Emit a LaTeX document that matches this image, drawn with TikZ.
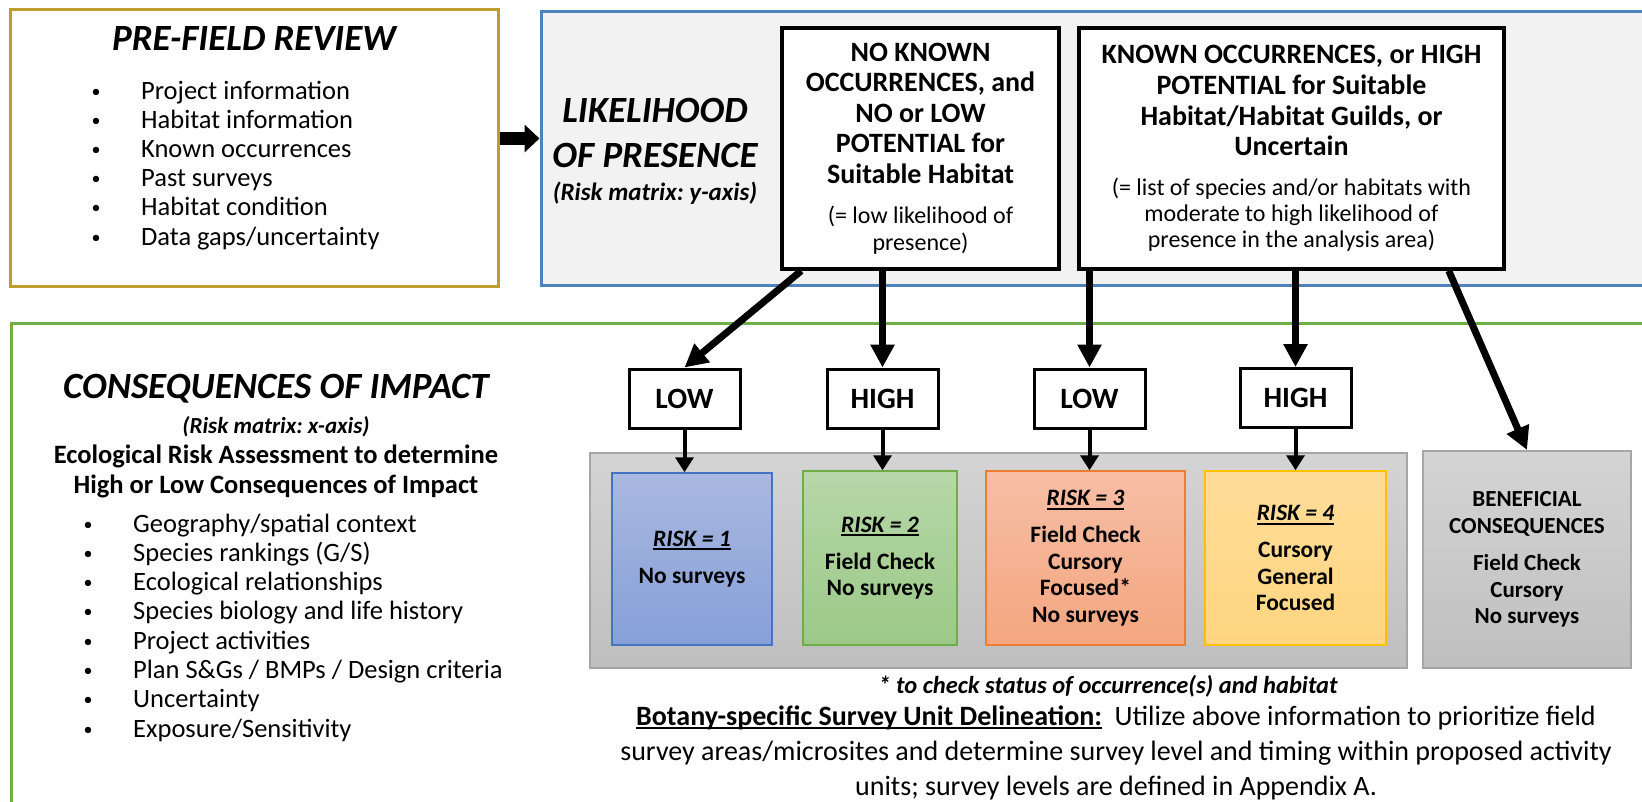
\documentclass[tikz,border=0pt]{standalone}
\usepackage{fontspec}
\setmainfont{Carlito}
\usetikzlibrary{positioning}
\usetikzlibrary{arrows.meta}
\frenchspacing
\definecolor{prefieldgold}{RGB}{191,155,48}
\definecolor{likelyblue}{RGB}{79,129,189}
\definecolor{likelyfill}{RGB}{242,242,242}
\definecolor{consgreen}{RGB}{112,173,71}
\definecolor{r1top}{RGB}{169,184,224}
\definecolor{r1bot}{RGB}{134,160,216}
\definecolor{r1line}{RGB}{68,114,196}
\definecolor{r2top}{RGB}{182,215,168}
\definecolor{r2bot}{RGB}{156,201,135}
\definecolor{r2line}{RGB}{112,173,71}
\definecolor{r3top}{RGB}{246,190,165}
\definecolor{r3bot}{RGB}{244,166,128}
\definecolor{r3line}{RGB}{237,125,49}
\definecolor{r4top}{RGB}{255,221,153}
\definecolor{r4bot}{RGB}{255,213,128}
\definecolor{r4line}{RGB}{255,192,0}
\definecolor{greytop}{RGB}{212,212,212}
\definecolor{greybot}{RGB}{191,191,191}
\definecolor{greyline}{RGB}{166,166,166}
\newcommand \setfs [2] {\fontsize{#1}{#2}\selectfont}
\newcommand \lowline [1] {\setbox0\hbox{#1}\rlap{\rule[-4pt]{\wd0}{2pt}}\box0}
\newcommand \risklevel [1] {\lowline{\textit{RISK = #1}}\par\vspace{10.5pt}}
\tikzset{
	prefieldbox/.style={
		draw=prefieldgold,
		line width=3pt,
		minimum width=488pt,
		minimum height=277pt,
		inner sep=0pt
	},
	likelybox/.style={
		draw=likelyblue,
		fill=likelyfill,
		line width=3pt,
		minimum width=1130pt,
		minimum height=274pt,
		inner sep=0pt
	},
	consframe/.style={
		draw=consgreen,
		line width=3pt
	},
	heading/.style={
		anchor=base,
		inner sep=0pt,
		text width=#1,
		align=flush center,
		font=\setfs{37}{45}\bfseries\itshape
	},
	bullet item/.style={
		anchor=base west,
		inner sep=0pt,
		font=\setfs{26.5}{30},
		execute at begin node={\llap{\raisebox{2pt}{\setfs{18}{18}•}\hspace{40.5pt}}}
	},
	choicebox/.style={
		draw,
		fill=white,
		line width=3.5pt,
		minimum height=241pt,
		inner sep=0pt,
		align=flush center
	},
	levelbox/.style={
		draw,
		fill=white,
		line width=3pt,
		minimum width=111pt,
		minimum height=59pt,
		inner sep=0pt,
		font=\setfs{29.5}{32}\bfseries
	},
	greybox/.style={
		top color=greytop,
		bottom color=greybot,
		draw=greyline,
		line width=2pt,
		inner sep=0pt
	},
	riskbox/.style={
		top color=#1top,
		bottom color=#1bot,
		draw=#1line,
		line width=1.5pt,
		inner sep=0pt,
		text width=150pt,
		align=flush center,
		font=\setfs{23.5}{26.5}\bfseries
	},
	bigarrow/.style={
		line width=7pt,
		-{Triangle[length=23pt,width=23pt]}
	},
	smallarrow/.style={
		line width=4pt,
		-{Triangle[length=15pt,width=18pt]}
	},
	fatarrow/.style={
		line width=13pt,
		-{Triangle[length=15pt,width=27pt]}
	}
}
\begin{document}
\begin{tikzpicture}[x=1pt, y=-1pt]
	\useasboundingbox (0,0) rectangle (1642,801);
	\clip (0,0) rectangle (1642,801);

	\node[prefieldbox] (prefield) at (254,147.5) {};
	\node[heading=320pt] (prefieldtitle) at (254,50) {PRE-FIELD REVIEW};
	\foreach \entry [count=\i from 0] in {Project information, Habitat information, Known occurrences, Past surveys, Habitat condition, Data gaps/uncertainty}
		\node[bullet item] (pre\i) at (141,{99+29.2*\i}) {\entry};

	\node[likelybox] (likely) at (1106,148) {};
	\draw[consframe] (11,323) rectangle (1700,850);

	\node[heading=240pt] (likelytitle) at (655,122) {LIKELIHOOD\\OF PRESENCE\par\setfs{25}{33}(Risk matrix: y-axis)\par};

	\node[choicebox, minimum width=277pt, text width=265pt] (noknown) at (920.5,148.5) {\setfs{28}{30.5}\bfseries NO KNOWN\\OCCURRENCES, and\\NO or LOW\\POTENTIAL for\\Suitable Habitat\par\vspace{13pt}\setfs{24}{27}\mdseries (= low likelihood of\\presence)\par};
	\node[choicebox, minimum width=425pt, text width=410pt] (known) at (1291.5,148.5) {\setfs{28}{30.7}\bfseries KNOWN OCCURRENCES, or HIGH\\POTENTIAL for Suitable\\Habitat/Habitat Guilds, or\\Uncertain\par\vspace{14pt}\setfs{24}{26}\mdseries (= list of species and/or habitats with\\moderate to high likelihood of\\presence in the analysis area)\par};

	\coordinate (fatstart) at ([yshift=9pt]prefield.east);
	\draw[fatarrow] (fatstart) -- (fatstart -| likely.west);

	\node[heading=480pt] (constitle) at (276,398) {CONSEQUENCES OF IMPACT\par\setfs{23}{35}(Risk matrix: x-axis)\par\setfs{26.5}{30}\upshape Ecological Risk Assessment to determine\\High or Low Consequences of Impact\par};
	\foreach \entry [count=\i from 0] in {Geography/spatial context, Species rankings (G/S), Ecological relationships, Species biology and life history, Project activities, Plan S\&Gs / BMPs / Design criteria, Uncertainty, Exposure/Sensitivity}
		\node[bullet item] (con\i) at (133,{532+29.3*\i}) {\entry};

	\node[greybox, minimum width=817pt, minimum height=215pt] (riskrow) at (998.5,560.5) {};
	\node[greybox, minimum width=208pt, minimum height=217pt, text width=195pt, align=flush center, font=\setfs{23}{26.5}\bfseries] (benefit) at (1527,559.5) {BENEFICIAL\\CONSEQUENCES\par\vspace{11pt}Field Check\\Cursory\\No surveys};

	\node[riskbox=r1, minimum width=160pt, minimum height=172pt] (riskA) at (692,559) {\risklevel{1}No surveys};
	\node[riskbox=r2, minimum width=154pt, minimum height=174pt] (riskB) at (880,558) {\risklevel{2}Field Check\\No surveys};
	\node[riskbox=r3, minimum width=199pt, minimum height=174pt] (riskC) at (1085.5,558) {\risklevel{3}Field Check\\Cursory\\Focused*\\No surveys};
	\node[riskbox=r4, minimum width=181pt, minimum height=174pt] (riskD) at (1295.5,558) {\risklevel{4}Cursory\\General\\Focused};

	\node[levelbox] (lowA) at (684.5,398.5) {LOW};
	\node[levelbox] (highA) at (882.5,398.5) {HIGH};
	\node[levelbox] (lowB) at (1089.5,398.5) {LOW};
	\node[levelbox] (highB) at (1295.5,398) {HIGH};

	\draw[bigarrow] ([xshift=21pt]noknown.south west) -- (lowA.north);
	\draw[bigarrow] (noknown.south -| highA) -- (highA.north);
	\draw[bigarrow] (known.south -| lowB) -- (lowB.north);
	\draw[bigarrow] (known.south -| highB) -- (highB.north);
	\draw[bigarrow] ([xshift=-57pt]known.south east) -- (benefit.north);

	\draw[smallarrow] (lowA.south) -- (lowA.south |- riskA.north);
	\draw[smallarrow] (highA.south) -- (highA.south |- riskB.north);
	\draw[smallarrow] (lowB.south) -- (lowB.south |- riskC.north);
	\draw[smallarrow] (highB.south) -- (highB.south |- riskD.north);

	\node[anchor=base, inner sep=0pt, font=\setfs{24.5}{26}\bfseries\itshape] (starnote) at (1108,693) {* to check status of occurrence(s) and habitat};
	\node[anchor=base, inner sep=0pt, text width=1100pt, align=flush center, font=\setfs{28}{35}] (delineation) at (1116,725) {\lowline{\textbf{Botany-specific Survey Unit Delineation:}}\ \ Utilize above information to prioritize field\\survey areas/microsites and determine survey level and timing within proposed activity\\units; survey levels are defined in Appendix A.};
\end{tikzpicture}
\end{document}
